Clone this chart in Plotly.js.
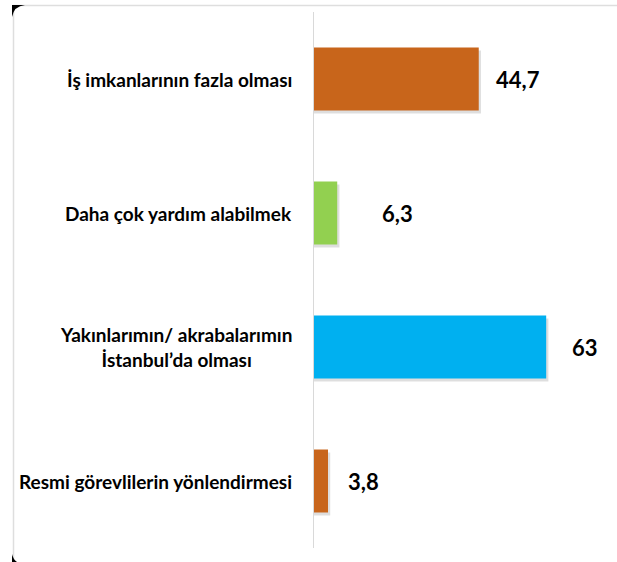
<!DOCTYPE html>
<html>
<head>
<meta charset="utf-8">
<script src="https://cdn.plot.ly/plotly-3.0.1.min.js"></script>
<style>
html,body{margin:0;padding:0;background:#fff;}
#chart{width:617px;height:562px;}
</style>
</head>
<body>
<div id="chart"></div>
<script>
var categories = [
  "İş imkanlarının fazla olması",
  "Daha çok yardım alabilmek",
  "Yakınlarımın/ akrabalarımın<br>İstanbul’da olması",
  "Resmi görevlilerin yönlendirmesi"
];
var values = [44.7, 6.3, 63, 3.8];
var barColors = ["#C8651B", "#92D050", "#00B0F0", "#C8651B"];
var valueShift = [15, 43, 24, 18];

var labelFont = {family: "Lato, 'Open Sans', sans-serif", size: 19, color: "#000", weight: 700};
var valueFont = {family: "Lato, 'Open Sans', sans-serif", size: 22, color: "#000", weight: 700};

var barWidth = 0.47;

var shadow = {
  type: "bar",
  orientation: "h",
  y: categories,
  x: values.map(function(v){ return v + 0.6; }),
  width: barWidth,
  offset: -barWidth/2 + 0.022,
  marker: {color: "rgba(0,0,0,0.13)", line: {width: 0}},
  hoverinfo: "none"
};

var trace = {
  type: "bar",
  orientation: "h",
  y: categories,
  x: values,
  width: barWidth,
  offset: -barWidth/2,
  marker: {color: barColors, line: {width: 0}},
  hoverinfo: "none"
};

var annotations = [];
categories.forEach(function(c, i){
  annotations.push({
    x: 0, y: c, xref: "x", yref: "y",
    text: "<b>" + c + "</b>",
    showarrow: false, xanchor: "right", yanchor: "middle",
    align: "center", xshift: -20,
    font: labelFont
  });
  annotations.push({
    x: values[i], y: c, xref: "x", yref: "y",
    text: "<b>" + String(values[i]).replace(".", ",") + "</b>",
    showarrow: false, xanchor: "left", yanchor: "middle",
    xshift: valueShift[i],
    font: valueFont
  });
});

var layout = {
  width: 617, height: 562,
  margin: {l: 314, r: 17, t: 12, b: 14, pad: 0},
  paper_bgcolor: "#fff", plot_bgcolor: "#fff",
  showlegend: false,
  barmode: "overlay",
  separators: ",.",
  xaxis: {range: [0, 77.6], showgrid: false, zeroline: false, showline: false,
          showticklabels: false, ticks: "", fixedrange: true},
  yaxis: {type: "category", autorange: "reversed", showgrid: false, zeroline: false,
          showline: true, linecolor: "#D9D9D9", linewidth: 1,
          showticklabels: false, ticks: "", fixedrange: true},
  annotations: annotations,
  shapes: [
    {
      type: "rect", xref: "paper", yref: "paper",
      x0: -1.0507, x1: 1.08, y0: -0.03, y1: 1.0121,
      line: {color: "#DEDEDE", width: 1.5}, layer: "below"
    },
    {
      type: "path", xref: "paper", yref: "paper",
      path: "M -1.05594 1.01306 L -1.01049 1.01306 Q -1.04895 1.01119 -1.05594 0.99067 Z",
      fillcolor: "#000", line: {width: 0}, layer: "above"
    },
    {
      type: "path", xref: "paper", yref: "paper",
      path: "M -1.05594 -0.01119 L -1.05594 -0.02612 L -1.03846 -0.02612 Q -1.05245 -0.02052 -1.05594 -0.01119 Z",
      fillcolor: "#000", line: {width: 0}, layer: "above"
    }
  ]
};

Plotly.newPlot("chart", [shadow, trace], layout, {displayModeBar: false, staticPlot: true});
</script>
</body>
</html>
